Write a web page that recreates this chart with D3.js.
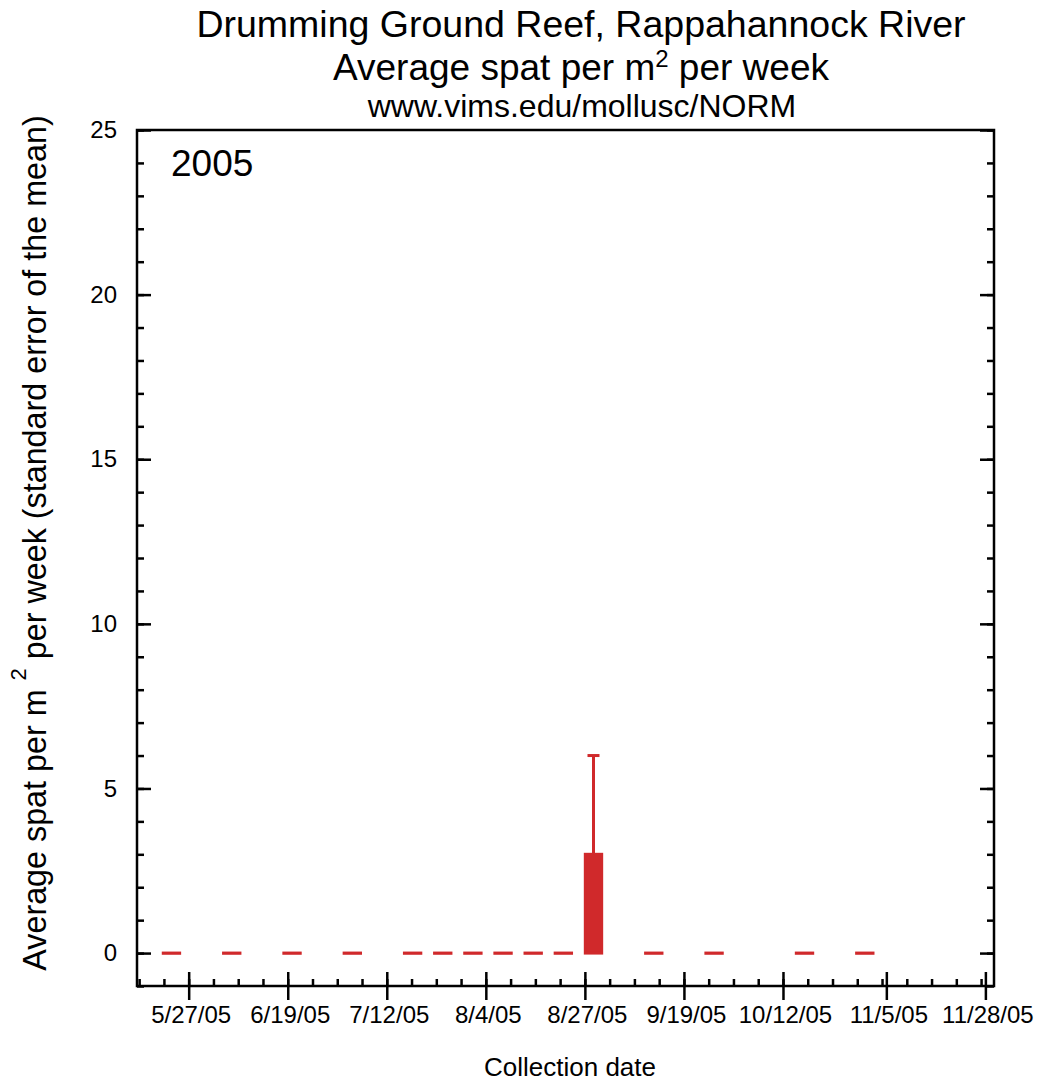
<!DOCTYPE html>
<html>
<head>
<meta charset="utf-8">
<script src="https://cdnjs.cloudflare.com/ajax/libs/d3/7.8.5/d3.min.js"></script>
<style>
  body { margin: 0; background: #fff; }
  svg { display: block; }
</style>
</head>
<body>
<div id="chart"></div>
<script>
(function() {
  var collectionDates = ['2005-05-23', '2005-06-06', '2005-06-20', '2005-07-04', '2005-07-18', '2005-07-25', '2005-08-01', '2005-08-08', '2005-08-15', '2005-08-22', '2005-08-29', '2005-09-12', '2005-09-26', '2005-10-17', '2005-10-31'];
  var spatMeans = [0, 0, 0, 0, 0, 0, 0, 0, 0, 0, 3, 0, 0, 0, 0];
  var spatErrors = [0, 0, 0, 0, 0, 0, 0, 0, 0, 0, 3, 0, 0, 0, 0];
  var yMajorTicks = [0, 5, 10, 15, 20, 25];
  var xMajorTicks = ['2005-05-27', '2005-06-19', '2005-07-12', '2005-08-04', '2005-08-27', '2005-09-19', '2005-10-12', '2005-11-05', '2005-11-28'];
  var xDomain = ['2005-05-15', '2005-11-30'];
  var yDomain = [-1, 25];

  var width = 1040, height = 1082;
  var left = 137, right = 994, top = 130, bottom = 986;
  var red = '#d0292b';
  var font = "'Liberation Sans', Arial, Helvetica, sans-serif";
  var DAY = 86400000;

  var parse = d3.utcParse('%Y-%m-%d');
  var fmt = d3.utcFormat('%-m/%-d/%y');

  var x = d3.scaleUtc().domain(xDomain.map(parse)).range([left, right]);
  var y = d3.scaleLinear().domain(yDomain).range([bottom, top]);

  var svg = d3.select('#chart').append('svg')
    .attr('width', width).attr('height', height)
    .attr('font-family', font);

  // titles
  svg.append('text').attr('x', 581).attr('y', 37).attr('text-anchor', 'middle')
    .attr('font-size', 37.5).text('Drumming Ground Reef, Rappahannock River');
  var t2 = svg.append('text').attr('x', 581).attr('y', 80).attr('text-anchor', 'middle').attr('font-size', 37);
  t2.append('tspan').text('Average spat per m');
  t2.append('tspan').attr('font-size', 24).attr('dy', -13).text('2');
  t2.append('tspan').attr('dy', 13).text(' per week');
  svg.append('text').attr('x', 582).attr('y', 117).attr('text-anchor', 'middle')
    .attr('font-size', 32).text('www.vims.edu/mollusc/NORM');

  // bars (zero values show as short dashes via the stroke)
  var dates = collectionDates.map(parse);
  var barHalf = 1.9 * DAY;
  var bars = svg.append('g');
  bars.selectAll('rect').data(dates).enter().append('rect')
    .attr('x', function(d) { return x(new Date(+d - barHalf)); })
    .attr('width', function(d) { return x(new Date(+d + barHalf)) - x(new Date(+d - barHalf)); })
    .attr('y', function(d, i) { return y(spatMeans[i]); })
    .attr('height', function(d, i) { return Math.max(y(0) - y(spatMeans[i]), 0.2); })
    .attr('fill', red).attr('stroke', red).attr('stroke-width', 3);

  // error bars
  var errs = svg.append('g');
  dates.forEach(function(d, i) {
    if (!spatErrors[i]) return;
    var cx = x(d);
    errs.append('line').attr('x1', cx).attr('x2', cx)
      .attr('y1', y(spatMeans[i])).attr('y2', y(spatMeans[i] + spatErrors[i]))
      .attr('stroke', red).attr('stroke-width', 3);
    errs.append('line').attr('x1', cx - 6).attr('x2', cx + 6)
      .attr('y1', y(spatMeans[i] + spatErrors[i])).attr('y2', y(spatMeans[i] + spatErrors[i]))
      .attr('stroke', red).attr('stroke-width', 3);
  });

  // y axes (ticks inward)
  var yMinor = d3.range(yDomain[0], yDomain[1] + 1);
  svg.append('g').attr('transform', 'translate(' + left + ',0)')
    .call(d3.axisLeft(y).tickValues(yMinor).tickSize(-7).tickSizeOuter(0).tickFormat(''));
  svg.append('g').attr('transform', 'translate(' + left + ',0)')
    .call(d3.axisLeft(y).tickValues(yMajorTicks).tickSize(-14).tickSizeOuter(0).tickPadding(20).tickFormat(d3.format('d')));
  svg.append('g').attr('transform', 'translate(' + right + ',0)')
    .call(d3.axisRight(y).tickValues(yMinor).tickSize(-7).tickSizeOuter(0).tickFormat(''));
  svg.append('g').attr('transform', 'translate(' + right + ',0)')
    .call(d3.axisRight(y).tickValues(yMajorTicks).tickSize(-14).tickSizeOuter(0).tickFormat(''));

  // x axis
  var majors = xMajorTicks.map(parse);
  var step = (majors[1] - majors[0]) / 4;
  var xMinor = [];
  for (var t = +majors[0] - 2 * step; t <= +x.domain()[1]; t += step) {
    if (t >= +x.domain()[0] - DAY) xMinor.push(new Date(t));
  }
  svg.append('g').attr('transform', 'translate(0,' + bottom + ')')
    .call(d3.axisBottom(x).tickValues(xMinor).tickSize(-7).tickSizeOuter(0).tickFormat(''));
  var xAxis = svg.append('g').attr('transform', 'translate(0,' + bottom + ')')
    .call(d3.axisBottom(x).tickValues(majors).tickSize(14).tickSizeOuter(0).tickPadding(6).tickFormat(fmt));
  xAxis.selectAll('.tick line').attr('y1', -14);
  xAxis.selectAll('.tick text').attr('dx', 2);

  svg.selectAll('.domain').remove();
  svg.selectAll('.tick line').attr('stroke', '#000').attr('stroke-width', 2.5);
  svg.selectAll('.tick text').attr('font-family', font).attr('font-size', 24).attr('fill', '#000');

  // frame
  svg.append('rect').attr('x', left).attr('y', top).attr('width', right - left).attr('height', bottom - top)
    .attr('fill', 'none').attr('stroke', '#000').attr('stroke-width', 2.5);

  // year label
  svg.append('text').attr('x', 171).attr('y', 176).attr('font-size', 37).text('2005');

  // axis titles
  var yl = svg.append('text').attr('transform', 'translate(46,543) rotate(-90)')
    .attr('text-anchor', 'middle').attr('font-size', 32.3);
  yl.append('tspan').text('Average spat per m ');
  yl.append('tspan').attr('font-size', 22).attr('dy', -20).text('2');
  yl.append('tspan').attr('dy', 20).text(' per week (standard error of the mean)');

  svg.append('text').attr('x', 570).attr('y', 1076).attr('text-anchor', 'middle')
    .attr('font-size', 26).text('Collection date');
}).call(this);
</script>
</body>
</html>
